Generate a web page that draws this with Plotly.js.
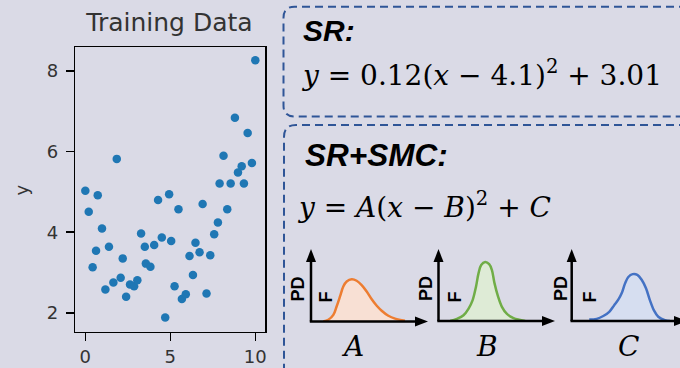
<!DOCTYPE html>
<html>
<head>
<meta charset="utf-8">
<script src="https://cdn.plot.ly/plotly-3.0.1.min.js"></script>
<style>html,body{margin:0;padding:0;background:#dadae6;}#chart{width:680px;height:368px;}</style>
</head>
<body>
<div id="chart"></div>
<script>
// ---- data ----
const trainX = [0, 0.2, 0.43, 0.63, 0.73, 0.98, 1.18, 1.39, 1.65, 1.85, 2.08, 2.2, 2.4, 2.63, 2.87, 3.06, 3.28, 3.5, 3.56, 3.83, 4.05, 4.28, 4.5, 4.7, 4.93, 5.05, 5.25, 5.48, 5.68, 5.91, 6.13, 6.33, 6.48, 6.72, 6.9, 7.13, 7.35, 7.58, 7.8, 7.9, 8.13, 8.35, 8.55, 8.8, 8.98, 9.2, 9.33, 9.55, 9.8, 10];
const trainY = [5.03, 4.51, 3.13, 3.54, 4.92, 4.09, 2.58, 3.64, 2.75, 5.82, 2.87, 3.35, 2.40, 2.70, 2.66, 2.81, 3.97, 3.64, 3.22, 3.14, 3.68, 4.80, 3.87, 1.88, 4.94, 3.78, 2.66, 4.57, 2.34, 2.46, 3.41, 2.94, 3.74, 3.50, 4.70, 2.48, 3.43, 3.95, 4.24, 5.21, 5.90, 4.57, 5.21, 6.84, 5.48, 5.64, 5.21, 6.46, 5.72, 8.27];
const xTicks = [0, 5, 10];
const yTicks = [2, 4, 6, 8];

const distA_x = [1.05, 1.48, 1.91, 2.19, 2.48, 2.76, 3.05, 3.48, 3.9, 4.33, 4.76, 5.19, 5.62, 6.04, 6.61, 7.18, 8.03];
const distA_y = [0, 0.024, 0.093, 0.21, 0.35, 0.49, 0.56, 0.59, 0.57, 0.51, 0.42, 0.31, 0.22, 0.15, 0.08, 0.04, 0.01];
const distB_x = [1.0, 1.57, 2.14, 2.56, 2.91, 3.2, 3.42, 3.65, 3.99, 4.33, 4.56, 4.79, 5.08, 5.42, 5.85, 6.41, 7.41];
const distB_y = [0, 0.03, 0.08, 0.17, 0.29, 0.48, 0.67, 0.79, 0.83, 0.80, 0.72, 0.53, 0.35, 0.20, 0.10, 0.04, 0];
const distC_x = [1.5, 2.14, 2.7, 3.21, 3.62, 3.98, 4.27, 4.56, 4.84, 5.21, 5.61, 5.98, 6.35, 6.69, 7.03, 7.4, 7.97, 8.4];
const distC_y = [0.02, 0.03, 0.07, 0.13, 0.22, 0.30, 0.39, 0.53, 0.62, 0.66, 0.65, 0.58, 0.46, 0.29, 0.15, 0.06, 0.01, 0];

// ---- layout helpers (pixel -> paper) ----
const W = 680, H = 368;
const px = x => x / W;
const py = y => 1 - y / H;
const BG = '#dadae6';
const BOX = '#2f5597';

const traces = [
  {x: trainX, y: trainY, type: 'scatter', mode: 'markers', xaxis: 'x', yaxis: 'y',
   marker: {color: '#1f77b4', size: 8.5}, hoverinfo: 'skip'},
  {x: distA_x, y: distA_y, type: 'scatter', mode: 'lines', xaxis: 'x2', yaxis: 'y2',
   line: {color: '#ed7d31', width: 2.5, shape: 'spline'}, fill: 'tozeroy', fillcolor: '#f8e0d4'},
  {x: distB_x, y: distB_y, type: 'scatter', mode: 'lines', xaxis: 'x3', yaxis: 'y3',
   line: {color: '#70ad47', width: 2.5, shape: 'spline'}, fill: 'tozeroy', fillcolor: '#deebd6'},
  {x: distC_x, y: distC_y, type: 'scatter', mode: 'lines', xaxis: 'x4', yaxis: 'y4',
   line: {color: '#4472c4', width: 2.5, shape: 'spline'}, fill: 'tozeroy', fillcolor: '#d6def0'}
];

const mini = (l, r) => ({domain: [px(l), Math.min(1, px(r))], range: [0, (Math.min(r, W) - l) / 11.7], visible: false, fixedrange: true});
const miniY = (base) => ({domain: [py(base), py(250)], range: [0, 1], visible: false, fixedrange: true});

// axes with arrow heads for the three small distributions
const shapes = [];
function arrowAxes(ox, oy, xtip) {
  shapes.push({type: 'line', xref: 'paper', yref: 'paper', x0: px(ox), y0: py(oy), x1: px(ox), y1: py(260), line: {color: '#000', width: 2.5}});
  shapes.push({type: 'path', xref: 'paper', yref: 'paper', fillcolor: '#000', line: {width: 0},
    path: `M${px(ox)},${py(249)} L${px(ox - 5)},${py(262)} L${px(ox + 5)},${py(262)} Z`});
  shapes.push({type: 'line', xref: 'paper', yref: 'paper', x0: px(ox - 1.2), y0: py(oy), x1: px(xtip - 10), y1: py(oy), line: {color: '#000', width: 2.5}});
  shapes.push({type: 'path', xref: 'paper', yref: 'paper', fillcolor: '#000', line: {width: 0},
    path: `M${px(xtip)},${py(oy)} L${px(xtip - 13)},${py(oy - 5)} L${px(xtip - 13)},${py(oy + 5)} Z`});
}
arrowAxes(311, 321.5, 428);
arrowAxes(438.5, 321, 555);
arrowAxes(571.7, 321, 687);

// dashed rounded boxes
function roundedBox(l, t, r, b, rad) {
  return `M${px(r)},${py(t)} L${px(l + rad)},${py(t)} Q${px(l)},${py(t)} ${px(l)},${py(t + rad)} ` +
         `L${px(l)},${py(b - rad)} Q${px(l)},${py(b)} ${px(l + rad)},${py(b)} L${px(r)},${py(b)}`;
}
shapes.push({type: 'path', xref: 'paper', yref: 'paper', layer: 'below', path: roundedBox(283.5, 6.7, 700, 116.5, 11),
  line: {color: BOX, width: 2, dash: '8px,5px'}});
shapes.push({type: 'path', xref: 'paper', yref: 'paper', layer: 'below', path: roundedBox(284, 125, 700, 400, 12),
  line: {color: BOX, width: 2, dash: '8px,5px'}});

const SANS = 'Liberation Sans, Arial, sans-serif';
const SERIF = 'DejaVu Serif, serif';
const ann = (x, y, text, font, extra) => Object.assign({xref: 'paper', yref: 'paper', x: px(x), y: py(y), text: text,
  showarrow: false, font: font, xanchor: 'left', yanchor: 'middle'}, extra || {});

const annotations = [
  ann(21, 190.5, 'y', {family: 'DejaVu Sans', size: 18, color: '#333'}, {xanchor: 'center', textangle: -90}),
  ann(301, 31, '<b><i>SR:</i></b>', {family: SANS, size: 30, color: '#000'}),
  ann(299, 73, '<i>y</i> = 0.12(<i>x</i> − 4.1)<sup>2</sup> + 3.01', {family: SERIF, size: 28, color: '#000'}),
  ann(303, 155, '<b><i>SR+SMC:</i></b>', {family: SANS, size: 31.5, color: '#000'}),
  ann(295, 205, '<i>y</i> = <i>A</i>(<i>x</i> − <i>B</i>)<sup>2</sup> + <i>C</i>', {family: SERIF, size: 28, color: '#000'}),
  ann(352, 346.5, '<i>A</i>', {family: SERIF, size: 28, color: '#000'}, {xanchor: 'center'}),
  ann(486.7, 346.5, '<i>B</i>', {family: SERIF, size: 28, color: '#000'}, {xanchor: 'center'}),
  ann(628.5, 346.5, '<i>C</i>', {family: SERIF, size: 28, color: '#000'}, {xanchor: 'center'})
];
[[297.5, 325], [426, 454], [561, 589]].forEach(p => {
  annotations.push(ann(p[0], 289, '<b>PD</b>', {family: SANS, size: 18, color: '#000'}, {xanchor: 'center', textangle: -90}));
  annotations.push(ann(p[1], 297.5, '<b>F</b>', {family: SANS, size: 18, color: '#000'}, {xanchor: 'center', textangle: -90}));
});

const tickFont = {family: 'DejaVu Sans', size: 18, color: '#333'};
const layout = {
  width: W, height: H,
  margin: {l: 0, r: 0, t: 0, b: 0},
  paper_bgcolor: BG, plot_bgcolor: BG,
  showlegend: false,
  title: {text: 'Training Data', x: px(169.5), xanchor: 'center', y: py(22), yanchor: 'middle',
          font: {family: 'DejaVu Sans', size: 25, color: '#333'}},
  xaxis: {domain: [px(75.3), px(265)], range: [-0.59, 10.57], tickvals: xTicks, ticktext: xTicks.map(String),
          showgrid: false, zeroline: false, showline: true, mirror: true, linecolor: '#000', linewidth: 1.6,
          ticks: 'outside', ticklen: 8, tickwidth: 1.5, tickcolor: '#000', tickfont: tickFont, automargin: false, anchor: 'y'},
  yaxis: {domain: [py(331.7), py(47.3)], range: [1.53, 8.59], tickvals: yTicks, ticktext: yTicks.map(String),
          showgrid: false, zeroline: false, showline: true, mirror: true, linecolor: '#000', linewidth: 1.6,
          ticks: 'outside', ticklen: 8, tickwidth: 1.5, tickcolor: '#000', tickfont: tickFont, automargin: false, anchor: 'x',
          ticklabelstandoff: 4},
  xaxis2: Object.assign(mini(311, 428), {anchor: 'y2'}),
  yaxis2: Object.assign(miniY(321.5), {anchor: 'x2'}),
  xaxis3: Object.assign(mini(438.5, 555), {anchor: 'y3'}),
  yaxis3: Object.assign(miniY(321), {anchor: 'x3'}),
  xaxis4: Object.assign(mini(571.7, 688.7), {anchor: 'y4'}),
  yaxis4: Object.assign(miniY(321), {anchor: 'x4'}),
  shapes: shapes,
  annotations: annotations
};
Plotly.newPlot('chart', traces, layout, {displayModeBar: false, staticPlot: true});
</script>
</body>
</html>
